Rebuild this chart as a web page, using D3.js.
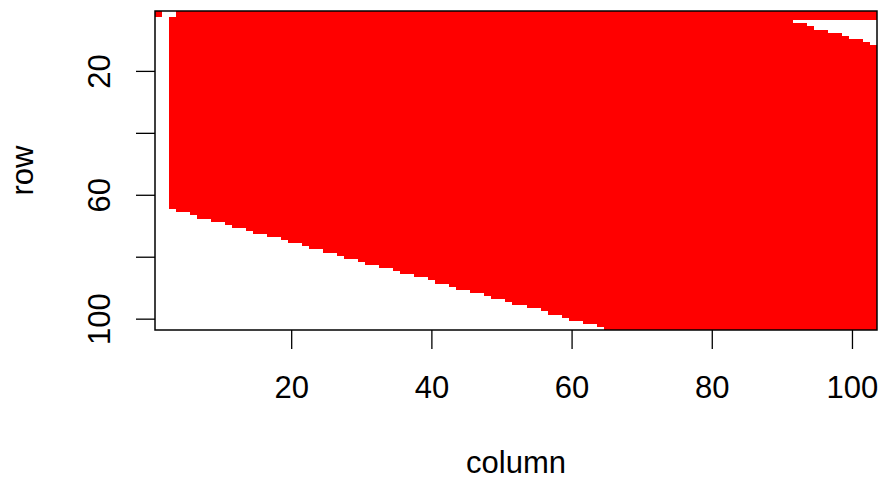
<!DOCTYPE html>
<html>
<head>
<meta charset="utf-8">
<script src="https://cdn.jsdelivr.net/npm/d3@7"></script>
<style>
body { margin: 0; background: #fff; }
text { font-family: "Liberation Sans", Arial, sans-serif; font-size: 31px; fill: #000; }
</style>
</head>
<body>
<svg width="883" height="477"></svg>
<script>
var nRows = 103, nCols = 103;
var xTicks = [20, 40, 60, 80, 100];
var yTicks = [20, 40, 60, 80, 100];
var yTickLabels = ["20", "", "60", "", "100"];

// lower edge of the red block: last red row for columns 3..64 (columns after 64 stay red to the bottom)
var firstBlockCol = 3;
var lastRedRow = [64,65,65,66,67,67,68,68,69,70, 70,71,72,72,73,73,74,75,75,76,
                  77,77,78,78,79,80,80,81,82,82, 83,83,84,85,85,86,86,87,88,88,
                  89,90,90,91,91,92,93,93,94,95, 95,96,96,97,98,98,99,100,100,101,
                  101,102];
// white notch at the top right: rows 4..11, white from this column onward
var notchRows = [4, 5, 6, 7, 8, 9, 10, 11];
var notchStartCol = [92, 94, 95, 97, 99, 100, 102, 103];
// top two rows: white in columns 2 and 3 only
var topRows = [1, 2];
var topWhiteCols = [2, 3];

function isRed(r, c) {
	if (topRows.indexOf(r) >= 0) return topWhiteCols.indexOf(c) < 0;
	if (c < firstBlockCol) return false;
	var k = c - firstBlockCol;
	var last = k < lastRedRow.length ? lastRedRow[k] : nRows;
	if (r > last) return false;
	var i = notchRows.indexOf(r);
	if (i >= 0 && c >= notchStartCol[i]) return false;
	return true;
}

// merge red cells of each column into vertical runs
var runs = [];
for (var c = 1; c <= nCols; c++) {
	var start = null;
	for (var r = 1; r <= nRows + 1; r++) {
		var red = r <= nRows && isRed(r, c);
		if (red && start === null) start = r;
		if (!red && start !== null) {
			runs.push({c: c, r0: start, r1: r - 1});
			start = null;
		}
	}
}

var plotLeft = 155, plotRight = 877, plotTop = 11, plotBottom = 330;
var x = d3.scaleLinear().domain([0.5, nCols + 0.5]).range([plotLeft, plotRight]);
var y = d3.scaleLinear().domain([0.5, nRows + 0.5]).range([plotTop, plotBottom]);

var svg = d3.select('svg');

svg.append('g')
	.selectAll('rect')
	.data(runs)
	.enter()
	.append('rect')
	.attr('x', function(d) {return x(d.c - 0.5);})
	.attr('width', function(d) {return x(d.c + 0.5) - x(d.c - 0.5);})
	.attr('y', function(d) {return y(d.r0 - 0.5);})
	.attr('height', function(d) {return y(d.r1 + 0.5) - y(d.r0 - 0.5);})
	.attr('fill', '#FF0000')
	.attr('shape-rendering', 'crispEdges');

// x axis
var xAxis = svg.append('g');
xAxis.selectAll('line')
	.data(xTicks)
	.enter()
	.append('line')
	.attr('x1', x).attr('x2', x)
	.attr('y1', plotBottom).attr('y2', plotBottom + 19)
	.attr('stroke', '#000').attr('stroke-width', 1.3);
xAxis.selectAll('text')
	.data(xTicks)
	.enter()
	.append('text')
	.attr('x', x)
	.attr('y', 398)
	.attr('text-anchor', 'middle')
	.text(function(d) {return d;});

// y axis
var yAxis = svg.append('g');
yAxis.selectAll('line')
	.data(yTicks)
	.enter()
	.append('line')
	.attr('x1', plotLeft - 19).attr('x2', plotLeft)
	.attr('y1', y).attr('y2', y)
	.attr('stroke', '#000').attr('stroke-width', 1.3);
yAxis.selectAll('text')
	.data(yTicks)
	.enter()
	.append('text')
	.attr('transform', function(d) {return 'translate(110,' + y(d) + ') rotate(-90)';})
	.attr('text-anchor', 'middle')
	.text(function(d, i) {return yTickLabels[i];});

// box
svg.append('rect')
	.attr('x', plotLeft).attr('y', plotTop)
	.attr('width', plotRight - plotLeft).attr('height', plotBottom - plotTop)
	.attr('fill', 'none').attr('stroke', '#000').attr('stroke-width', 1.5);

// axis titles
svg.append('text')
	.attr('x', (plotLeft + plotRight) / 2)
	.attr('y', 473)
	.attr('text-anchor', 'middle')
	.text('column');
svg.append('text')
	.attr('transform', 'translate(33,' + (plotTop + plotBottom) / 2 + ') rotate(-90)')
	.attr('text-anchor', 'middle')
	.text('row');
</script>
</body>
</html>
